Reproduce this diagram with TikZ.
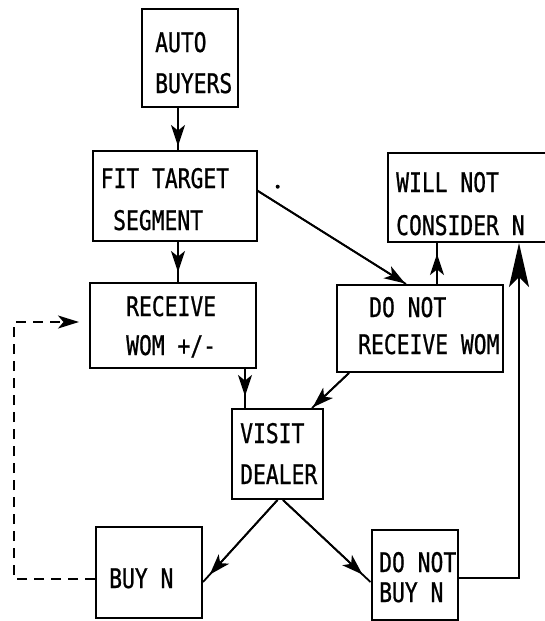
\documentclass[tikz,border=0pt]{standalone}
\usepackage{fontspec}
\newfontfamily\typ[FakeStretch=0.79,FakeBold=0.8]{DejaVu Sans Mono}
\usetikzlibrary{arrows.meta}
\begin{document}
\begin{tikzpicture}[x=1pt,y=-1pt,
  box/.style={draw, line width=2pt, inner sep=0pt, rectangle},
  txt/.style={inner sep=0pt, anchor=base west, font=\typ\fontsize{27}{42}\selectfont},
  line/.style={line width=1.8pt},
  tip/.style={postaction={draw, line width=1.8pt, -{Stealth[length=21pt,width=14pt,inset=5.5pt]}, shorten >=#1}},
  bigtip/.style={-{Stealth[length=44pt,width=20pt,inset=10pt]}},
  dashline/.style={line width=1.8pt, dash pattern=on 10pt off 7pt},
]
\useasboundingbox (0,0) rectangle (545,621);
\clip (0,0) rectangle (545,621);

% boxes
\node[box, minimum width=96pt, minimum height=98pt] (auto) at (189.5,58) {};
\node[box, minimum width=164pt, minimum height=90pt] (fit) at (174.5,196) {};
\node[box, minimum width=161pt, minimum height=89pt] (wnc) at (468.5,197.5) {};
\node[box, minimum width=166pt, minimum height=85pt] (rcv) at (173,325.5) {};
\node[box, minimum width=166pt, minimum height=87pt] (dnr) at (420,328.5) {};
\node[box, minimum width=91pt, minimum height=90pt] (visit) at (277.5,454) {};
\node[box, minimum width=106pt, minimum height=91pt] (buy) at (149,572.5) {};
\node[box, minimum width=86.5pt, minimum height=90pt] (dnb) at (414.75,574.5) {};

% texts
\node[txt] (t1) at (155,52) {AUTO};
\node[txt] (t2) at (155,93) {BUYERS};
\node[txt] (t3) at (100.5,188) {FIT TARGET};
\node[txt] (t4) at (113,230) {SEGMENT};
\node[txt] (t5) at (396,192) {WILL NOT};
\node[txt] (t6) at (396,235) {CONSIDER N};
\node[txt] (t7) at (126,316) {RECEIVE};
\node[txt] (t8) at (126,355) {WOM +/-};
\node[txt] (t9) at (369,317) {DO NOT};
\node[txt] (t10) at (358,354) {RECEIVE WOM};
\node[txt] (t11) at (240,443) {VISIT};
\node[txt] (t12) at (240,484) {DEALER};
\node[txt] (t13) at (109,588) {BUY N};
\node[txt] (t14) at (379,572) {DO NOT};
\node[txt] (t15) at (379,602) {BUY N};

% helper coordinates
\coordinate (x178) at (178,0);
\coordinate (x437) at (437,0);
\coordinate (x245) at (245,0);
\coordinate (x519) at (519,0);
\coordinate (cl) at (14,322);

% connectors
\draw[line, tip=4pt] (auto.south -| x178) -- (fit.north -| x178);
\draw[line, tip=10pt] (fit.south -| x178) -- (rcv.north -| x178);
\draw[line, tip=1pt] ([yshift=5.3pt]fit.east) -- ([xshift=-14pt]dnr.north);
\draw[line, tip=11pt] (dnr.north -| x437) -- (wnc.south -| x437);
\draw[line, tip=12pt] (rcv.south -| x245) -- (visit.north -| x245);
\draw[line, tip=1pt] ([xshift=-71pt]dnr.south) -- ([xshift=34.5pt]visit.north);
\draw[line, tip=10pt] (visit.south) -- ([yshift=-9.5pt]buy.east);
\draw[line, tip=11pt] ([xshift=5.5pt]visit.south) -- ([yshift=-7.5pt]dnb.west);
\draw[line, bigtip] ([yshift=-3.5pt]dnb.east) -| (wnc.south -| x519);
\draw[dashline, -{Stealth[length=21pt,width=13pt,inset=5.5pt]}, shorten >=10pt]
  ([yshift=-6.5pt]buy.west) -| (cl) -- (rcv.west |- cl);

% scan speck
\fill (277.7,186.7) circle (2pt);
\end{tikzpicture}
\end{document}
